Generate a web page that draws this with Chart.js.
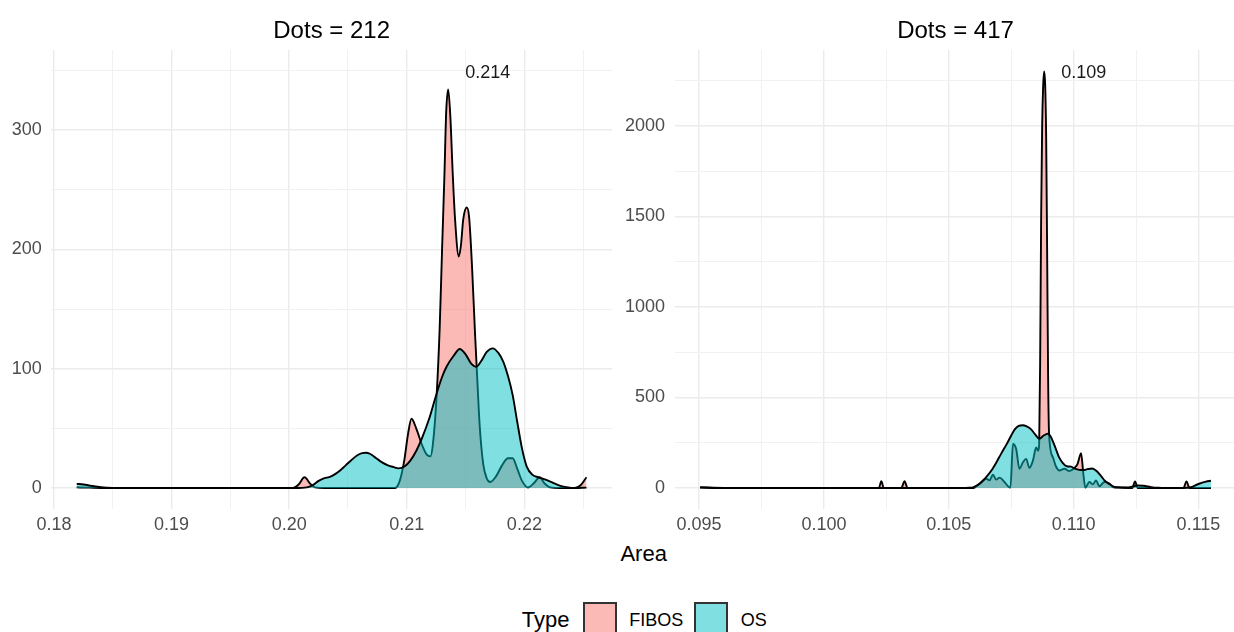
<!DOCTYPE html>
<html>
<head>
<meta charset="utf-8">
<script src="https://cdn.jsdelivr.net/npm/chart.js@4.4.1/dist/chart.umd.min.js"></script>
<style>
  html, body { margin: 0; padding: 0; background: #fff; overflow: hidden; }
  #wrap { position: relative; width: 1234px; height: 632px; overflow: hidden;
          font-family: "Liberation Sans", Arial, sans-serif; color: #000; }
  canvas { position: absolute; top: 0; }
  #cLeft { left: 0; }
  #cRight { left: 617px; }
  .txt { position: absolute; white-space: nowrap; }
  .key { position: absolute; box-sizing: border-box; width: 34px; height: 34px;
         border: 2px solid #333; }
</style>
</head>
<body>
<div id="wrap">
  <canvas id="cLeft" width="617" height="540"></canvas>
  <canvas id="cRight" width="623" height="540"></canvas>
  <div class="txt" id="xTitle" style="left:643.7px; top:543px; font-size:22px; line-height:22px; transform:translateX(-50%);"></div>
  <div class="txt" id="legTitle" style="left:521.7px; top:609px; font-size:22px; line-height:22px;"></div>
  <div class="key" id="key0" style="left:582.7px; top:601.7px;"></div>
  <div class="txt" id="leg0" style="left:629.3px; top:610.7px; font-size:18px; line-height:18px;"></div>
  <div class="key" id="key1" style="left:694px; top:601.7px;"></div>
  <div class="txt" id="leg1" style="left:740.7px; top:610.7px; font-size:18px; line-height:18px;"></div>
</div>
<script>
// ---- data: density estimates of Area, [area, density] ----
const seriesNames = ['FIBOS', 'OS'];
const legendTitle = 'Type';
const xAxisTitle = 'Area';
const titleLeft = 'Dots = 212';
const titleRight = 'Dots = 417';

const fibosLeft = [
  [0.18193, 0.6], [0.1830, 0.3], [0.1845, 0], [0.1900, 0], [0.1950, 0], [0.2003, 0],
  [0.2008, 3], [0.2013, 9], [0.2018, 3.5], [0.2022, 0.5], [0.2030, 0], [0.2060, 0],
  [0.2090, 0], [0.2094, 6], [0.2098, 24], [0.2101, 45], [0.2104, 58], [0.2108, 50],
  [0.2113, 36], [0.2117, 28], [0.2120, 26.5], [0.2122, 35], [0.21254, 78], [0.2128, 135],
  [0.2130, 200], [0.2132, 262], [0.21335, 315], [0.21352, 334], [0.2137, 312], [0.2139, 265],
  [0.2141, 226], [0.21442, 194], [0.2146, 203], [0.2148, 225], [0.2151, 235], [0.2153, 227],
  [0.21555, 185], [0.2158, 130], [0.2160, 90], [0.2162, 52], [0.2165, 20], [0.2168, 8],
  [0.2171, 5], [0.2176, 10], [0.2181, 19], [0.2186, 25], [0.2190, 25], [0.2194, 16],
  [0.2198, 6], [0.2203, 0.5], [0.2208, 4], [0.2213, 9], [0.2217, 4], [0.2222, 0.5],
  [0.2230, 0], [0.2243, 0], [0.2248, 2.5], [0.22528, 9]
];
const osLeft = [
  [0.18193, 3.5], [0.1825, 3], [0.1832, 1.8], [0.1840, 0.7], [0.1850, 0.1], [0.1860, 0],
  [0.1950, 0], [0.2005, 0], [0.2015, 0.6], [0.2020, 2.5], [0.2025, 6], [0.2030, 8.3],
  [0.2034, 9.2], [0.2038, 11], [0.2043, 14.5], [0.2048, 19], [0.2053, 23.5], [0.2058, 27.5],
  [0.2062, 29.2], [0.2065, 29.5], [0.2069, 28.5], [0.2074, 25], [0.2079, 21.5], [0.2084, 19],
  [0.2089, 17.5], [0.2093, 16.5], [0.2098, 18], [0.2103, 23], [0.2108, 31], [0.2113, 42],
  [0.2119, 58], [0.2125, 78], [0.2130, 93], [0.2134, 102], [0.2140, 111], [0.2145, 116.5],
  [0.2150, 112], [0.2155, 104], [0.2159, 101.5], [0.2163, 106], [0.2168, 114], [0.2173, 117],
  [0.2178, 113], [0.2182, 106], [0.2186, 94], [0.2190, 78], [0.2194, 55], [0.2198, 33],
  [0.2202, 18], [0.2207, 11], [0.2212, 9], [0.2218, 7], [0.2224, 4.5], [0.2230, 2],
  [0.2237, 0.5], [0.2243, 0], [0.22528, 0.3]
];
const fibosRight = [
  [0.09504, 2], [0.0958, 0], [0.1020, 0], [0.1022, 0], [0.1023, 37], [0.1024, 0],
  [0.1031, 0], [0.10323, 37], [0.10335, 0], [0.1060, 0], [0.10623, 24], [0.1065, 51],
  [0.10663, 42], [0.10677, 73], [0.1069, 46], [0.10703, 57], [0.10723, 33], [0.10741, 5],
  [0.10747, 2], [0.10757, 243], [0.1077, 215], [0.10783, 106], [0.10797, 142], [0.1081, 161],
  [0.10823, 111], [0.10837, 151], [0.1085, 224], [0.10858, 206], [0.10862, 240], [0.10866, 700],
  [0.1087, 1500], [0.10874, 2000], [0.10878, 2220], [0.10882, 2301], [0.10886, 2230], [0.1089, 1950],
  [0.10894, 1300], [0.10898, 600], [0.10902, 290], [0.10917, 170], [0.10929, 120], [0.10943, 97],
  [0.10963, 106], [0.10983, 93], [0.11003, 111], [0.11015, 130], [0.1103, 192], [0.11039, 78],
  [0.11047, 2], [0.11063, 33], [0.11077, 20], [0.1109, 42], [0.11103, 9], [0.11123, 33],
  [0.11143, 24], [0.11157, 5], [0.11183, 2], [0.11235, 0], [0.11246, 36], [0.11257, 0],
  [0.1144, 0], [0.11452, 36], [0.11464, 0], [0.1155, 0]
];
const osRight = [
  [0.09504, 4], [0.0960, 0.5], [0.0970, 0], [0.1055, 0], [0.1058, 1], [0.1060, 5],
  [0.1063, 30], [0.1065, 60], [0.1067, 95], [0.1069, 140], [0.1071, 190], [0.10733, 245],
  [0.1075, 290], [0.10765, 325], [0.1078, 343], [0.10797, 347], [0.1081, 342], [0.10829, 325],
  [0.10845, 298], [0.10863, 272], [0.1088, 290], [0.10897, 300], [0.10909, 282], [0.10925, 230],
  [0.10941, 172], [0.10957, 138], [0.10973, 120], [0.1099, 118], [0.11005, 107], [0.11023, 100],
  [0.1104, 99], [0.11055, 104], [0.11075, 108], [0.11093, 92], [0.1111, 66], [0.11125, 40],
  [0.11143, 22], [0.1116, 8], [0.1118, 4], [0.1121, 3], [0.1123, 6], [0.11255, 14],
  [0.1128, 12], [0.1131, 5], [0.1134, 1], [0.1137, 0], [0.1144, 0], [0.1147, 4],
  [0.1150, 22], [0.1153, 35], [0.1155, 40]
];

// ---- tick positions ----
const xMajorLeft = [0.18, 0.19, 0.20, 0.21, 0.22];
const xMinorLeft = [0.185, 0.195, 0.205, 0.215, 0.225];
const yMajorLeft = [0, 100, 200, 300];
const yMinorLeft = [50, 150, 250, 350];
const xMajorRight = [0.095, 0.100, 0.105, 0.110, 0.115];
const xMinorRight = [0.0975, 0.1025, 0.1075, 0.1125];
const yMajorRight = [0, 500, 1000, 1500, 2000];
const yMinorRight = [250, 750, 1250, 1750, 2250];

// ---- styling ----
const FONT = '"Liberation Sans", Arial, sans-serif';
const fillColors = ['rgba(248,118,109,0.5)', 'rgba(0,191,196,0.5)'];
Chart.defaults.font.family = FONT;

const near = (v, list) => list.some(m => Math.abs(m - v) < 1e-9);

// panel title, centred over the plotting area
const panelTitle = {
  id: 'panelTitle',
  afterDraw(chart, args, o) {
    const a = chart.chartArea, ctx = chart.ctx;
    ctx.save();
    ctx.font = '24px ' + FONT;
    ctx.fillStyle = '#000';
    ctx.textAlign = 'center';
    ctx.textBaseline = 'middle';
    ctx.fillText(o.text, (a.left + a.right) / 2, 31);
    ctx.restore();
  }
};

// label with the location of the FIBOS mode
const peakLabel = {
  id: 'peakLabel',
  afterDatasetsDraw(chart, args, o) {
    const pts = chart.data.datasets[0].data;
    let best = pts[0];
    for (const p of pts) if (p.y > best.y) best = p;
    const ctx = chart.ctx;
    ctx.save();
    ctx.font = '18px ' + FONT;
    ctx.fillStyle = '#1a1a1a';
    ctx.textAlign = 'left';
    ctx.textBaseline = 'middle';
    ctx.fillText(best.x.toFixed(3),
      chart.scales.x.getPixelForValue(best.x) + 17,
      chart.scales.y.getPixelForValue(o.labelY));
    ctx.restore();
  }
};

function gridOpts(majors) {
  return {
    drawTicks: false,
    color: c => (c.tick && near(c.tick.value, majors)) ? '#EBEBEB' : '#F1F1F1',
    lineWidth: c => (c.tick && near(c.tick.value, majors)) ? 1.4 : 1
  };
}

function makePanel(id, fibos, os, p) {
  const toPts = arr => arr.map(([x, y]) => ({ x, y }));
  return new Chart(document.getElementById(id), {
    type: 'line',
    data: {
      datasets: [
        { label: seriesNames[0], data: toPts(fibos), order: 2 },
        { label: seriesNames[1], data: toPts(os), order: 1 }
      ].map((d, i) => Object.assign(d, {
        backgroundColor: fillColors[i],
        borderColor: '#000',
        borderWidth: 1.9,
        fill: 'origin',
        pointRadius: 0,
        cubicInterpolationMode: 'monotone'
      }))
    },
    options: {
      responsive: false,
      animation: false,
      layout: { padding: { left: 0, right: p.padRight, top: 50, bottom: 0 } },
      plugins: {
        legend: { display: false },
        tooltip: { enabled: false },
        panelTitle: { text: p.title },
        peakLabel: { labelY: p.labelY }
      },
      scales: {
        x: {
          type: 'linear',
          min: p.xMin, max: p.xMax,
          border: { display: false },
          grid: gridOpts(p.xMajor),
          afterBuildTicks: s => { s.ticks = [...p.xMajor, ...p.xMinor].sort((a, b) => a - b).map(v => ({ value: v })); },
          afterFit: s => { s.height = 31.2; },
          ticks: {
            autoSkip: false, maxRotation: 0, padding: 5,
            color: '#4D4D4D', font: { size: 18 },
            callback: v => near(v, p.xMajor) ? v.toFixed(p.xDec) : ''
          }
        },
        y: {
          type: 'linear',
          min: p.yMin, max: p.yMax,
          border: { display: false },
          grid: gridOpts(p.yMajor),
          afterBuildTicks: s => { s.ticks = [...p.yMajor, ...p.yMinor].sort((a, b) => a - b).map(v => ({ value: v })); },
          afterFit: s => { s.width = p.yWidth; },
          ticks: {
            autoSkip: false, padding: 9.5,
            color: '#4D4D4D', font: { size: 18 },
            callback: v => near(v, p.yMajor) ? String(v) : ''
          }
        }
      }
    },
    plugins: [panelTitle, peakLabel]
  });
}

makePanel('cLeft', fibosLeft, osLeft, {
  title: titleLeft, labelY: 348,
  xMin: 0.17977, xMax: 0.22745, yMin: -17.4, yMax: 367,
  xMajor: xMajorLeft, xMinor: xMinorLeft, yMajor: yMajorLeft, yMinor: yMinorLeft,
  xDec: 2, yWidth: 51.3, padRight: 5
});
makePanel('cRight', fibosRight, osRight, {
  title: titleRight, labelY: 2293,
  xMin: 0.094017, xMax: 0.116523, yMin: -115, yMax: 2420,
  xMajor: xMajorRight, xMinor: xMinorRight, yMajor: yMajorRight, yMinor: yMinorRight,
  xDec: 3, yWidth: 57.5, padRight: 3.5
});

// shared axis title and legend
document.getElementById('xTitle').textContent = xAxisTitle;
document.getElementById('legTitle').textContent = legendTitle;
seriesNames.forEach((n, i) => {
  document.getElementById('leg' + i).textContent = n;
  document.getElementById('key' + i).style.background = fillColors[i];
});
</script>
</body>
</html>
